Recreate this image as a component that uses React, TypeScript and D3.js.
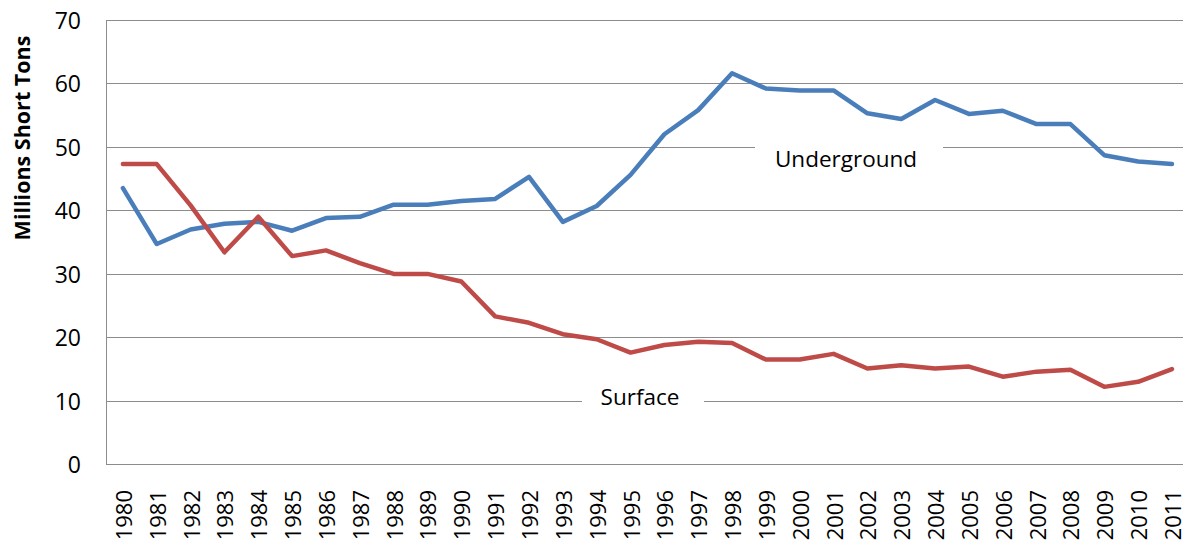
import React from "react";
import * as d3 from "d3";

const years: string[] = [
  "1980","1981","1982","1983","1984","1985","1986","1987","1988","1989",
  "1990","1991","1992","1993","1994","1995","1996","1997","1998","1999",
  "2000","2001","2002","2003","2004","2005","2006","2007","2008","2009",
  "2010","2011",
];
const underground: number[] = [
  43.5, 34.7, 37.0, 37.9, 38.2, 36.8, 38.8, 39.0, 40.9, 40.9,
  41.5, 41.8, 45.3, 38.2, 40.7, 45.6, 52.0, 55.8, 61.6, 59.2,
  58.9, 58.9, 55.3, 54.4, 57.4, 55.2, 55.7, 53.6, 53.6, 48.7,
  47.7, 47.3,
];
const surface: number[] = [
  47.3, 47.3, 40.8, 33.4, 39.0, 32.8, 33.7, 31.7, 30.0, 30.0,
  28.8, 23.3, 22.3, 20.5, 19.7, 17.6, 18.8, 19.3, 19.1, 16.5,
  16.5, 17.4, 15.1, 15.6, 15.1, 15.4, 13.8, 14.6, 14.9, 12.2,
  13.0, 15.0,
];
const yTicks: number[] = [0, 10, 20, 30, 40, 50, 60, 70];
const yTitle = "Millions Short Tons";
const seriesLabels = [
  { name: "Underground", color: "#4A7EBB", data: underground },
  { name: "Surface", color: "#BE4B48", data: surface },
];

const W = 1183;
const H = 544;
const FONT = "'Open Sans', 'Noto Sans', sans-serif";

export default function App() {
  const left = 106;
  const top = 20;
  const bottom = 464.3;
  const band = 33.84;
  const x = d3
    .scaleBand<string>()
    .domain(years)
    .range([left, left + band * years.length])
    .paddingInner(0)
    .paddingOuter(0);
  const y = d3.scaleLinear().domain([0, 70]).range([bottom, top]);
  const cx = (yr: string) => (x(yr) as number) + x.bandwidth() / 2;

  const line = d3
    .line<number>()
    .x((_, i) => cx(years[i]))
    .y((d) => y(d));

  const plotRight = Math.min(W, left + band * years.length);

  return (
    <div style={{ position: "fixed", left: 0, top: 0, width: W, height: H, background: "#fff" }}>
      <svg width={W} height={H} style={{ display: "block" }} fontFamily={FONT}>
        <rect x={0} y={0} width={W} height={H} fill="#fff" />
        {yTicks.map((t) => (
          <line
            key={"g" + t}
            x1={left}
            x2={plotRight}
            y1={Math.round(y(t)) + 0.5}
            y2={Math.round(y(t)) + 0.5}
            stroke="#8c8c8c"
            strokeWidth={1}
          />
        ))}
        <line x1={left + 0.5} x2={left + 0.5} y1={y(70)} y2={y(0)} stroke="#8c8c8c" strokeWidth={1} />
        {yTicks.map((t) => (
          <text
            key={"yl" + t}
            x={81}
            y={y(t)}
            textAnchor="end"
            dominantBaseline="central"
            fontSize={23}
            fill="#000"
          >
            {t}
          </text>
        ))}
        <text
          transform={`translate(30, 138) rotate(-90)`}
          textAnchor="middle"
          fontSize={21.5}
          fontWeight="bold"
          fill="#000"
        >
          {yTitle}
        </text>
        {years.map((yr) => (
          <text
            key={"xl" + yr}
            transform={`translate(${cx(yr)}, 490) rotate(-90)`}
            textAnchor="end"
            dominantBaseline="central"
            fontSize={22}
            fill="#000"
          >
            {yr}
          </text>
        ))}
        <rect x={755} y={y(50) - 15} width={188} height={32} fill="#fff" />
        <rect x={582} y={y(10) - 15} width={122} height={32} fill="#fff" />
        {seriesLabels.map((s) => (
          <path
            key={s.name}
            d={line(s.data) || ""}
            fill="none"
            stroke={s.color}
            strokeWidth={4.5}
            strokeLinejoin="round"
            strokeLinecap="round"
          />
        ))}
        <text x={846} y={166.7} textAnchor="middle" fontSize={22.5} fill="#000">
          {seriesLabels[0].name}
        </text>
        <text x={640} y={405} textAnchor="middle" fontSize={22.5} fill="#000">
          {seriesLabels[1].name}
        </text>
      </svg>
    </div>
  );
}
